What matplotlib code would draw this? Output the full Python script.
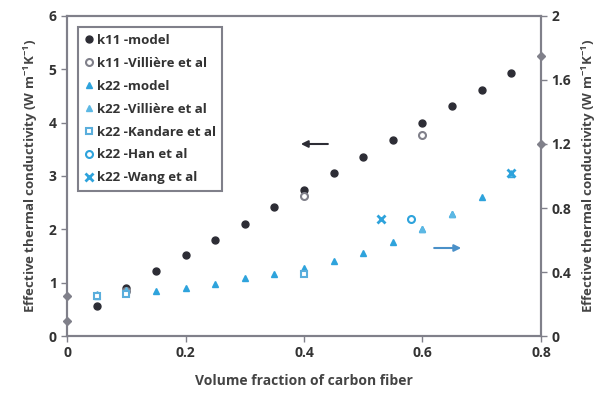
import numpy as np
import matplotlib.pyplot as plt

plt.rcParams['font.family'] = ['Open Sans', 'DejaVu Sans']
plt.rcParams['font.weight'] = 'bold'
plt.rcParams['axes.labelweight'] = 'bold'
plt.rcParams['mathtext.fontset'] = 'custom'
plt.rcParams['mathtext.bf'] = 'Open Sans:bold'
plt.rcParams['mathtext.rm'] = 'Open Sans:bold'
plt.rcParams['mathtext.default'] = 'bf'

# data
vf = [0.05, 0.10, 0.15, 0.20, 0.25, 0.30, 0.35, 0.40, 0.45, 0.50, 0.55, 0.60, 0.65, 0.70, 0.75]
k11_model = [0.57, 0.90, 1.22, 1.52, 1.80, 2.10, 2.42, 2.74, 3.06, 3.36, 3.68, 4.00, 4.31, 4.62, 4.93]
k11_vill_x = [0.10, 0.40, 0.60]
k11_vill = [0.85, 2.63, 3.77]
k22_model = [0.25, 0.275, 0.28, 0.30, 0.325, 0.36, 0.39, 0.425, 0.47, 0.52, 0.59, 0.67, 0.76, 0.87, 1.01]
k22_vill_x = [0.05, 0.10, 0.60, 0.65, 0.75]
k22_vill = [0.26, 0.29, 0.67, 0.76, 1.02]
kand_x = [0.05, 0.10, 0.40]
kand = [0.25, 0.26, 0.39]
han_x = [0.58]
han = [0.73]
wang_x = [0.53, 0.75]
wang = [0.73, 1.02]
bound_left = [0.28, 0.75]
bound_right = [1.75, 1.20]

dark = '#2d2d35'
blue = '#2ea3dc'
grey = '#80808a'
ylab = 'Effective thermal conductivity (W m$^{-1}$K$^{-1}$)'

fig = plt.figure(figsize=(6.06, 3.94), dpi=100)
ax = fig.add_axes([0.1106, 0.1472, 0.7821, 0.8122])
ax2 = ax.twinx()

h1, = ax.plot(vf, k11_model, 'o', color=dark, ms=5, label='k11 -model')
h2, = ax.plot(k11_vill_x, k11_vill, 'o', mfc='white', mec=grey, mew=1.5, ms=5, label='k11 -Villière et al')
ax.plot(np.zeros(len(bound_left)), bound_left, 'D', color=grey, ms=4, clip_on=False, zorder=5)

h3, = ax2.plot(vf, k22_model, '^', color=blue, ms=5, label='k22 -model')
h4, = ax2.plot(k22_vill_x, k22_vill, '^', color='#5cb8e4', ms=5, label='k22 -Villière et al')
h5, = ax2.plot(kand_x, kand, 's', mfc='white', mec='#5aaedc', mew=1.5, ms=5, label='k22 -Kandare et al')
h6, = ax2.plot(han_x, han, 'o', mfc='white', mec=blue, mew=1.5, ms=5, label='k22 -Han et al')
h7, = ax2.plot(wang_x, wang, 'x', color=blue, mew=2, ms=6, label='k22 -Wang et al')
ax2.plot(np.full(len(bound_right), 0.8), bound_right, 'D', color=grey, ms=4, clip_on=False, zorder=5)

ax.set_xlim(0, 0.8)
ax.set_ylim(0, 6)
ax2.set_ylim(0, 2)
ax.set_xticks([0, 0.2, 0.4, 0.6, 0.8])
ax.set_xticklabels(['0', '0.2', '0.4', '0.6', '0.8'])
ax.set_yticks(range(7))
ax2.set_yticks([0, 0.4, 0.8, 1.2, 1.6, 2])
ax2.set_yticklabels(['0', '0.4', '0.8', '1.2', '1.6', '2'])

for a in (ax, ax2):
    for s in a.spines.values():
        s.set_color(grey)
        s.set_linewidth(1.5)
    a.tick_params(colors=grey, labelcolor='#333333', labelsize=10, length=4, width=1)

ax.set_xlabel('Volume fraction of carbon fiber', fontsize=10, color='#444444', labelpad=10)
ax.set_ylabel(ylab, fontsize=9.5, color='#444444', labelpad=6)
ax2.set_ylabel(ylab, fontsize=9.5, color='#444444', labelpad=6)

ax.annotate('', xy=(0.39, 3.6), xytext=(0.445, 3.6),
            arrowprops=dict(arrowstyle='-|>', color=dark, lw=1.5))
ax2.annotate('', xy=(0.67, 0.55), xytext=(0.615, 0.55),
             arrowprops=dict(arrowstyle='-|>', color='#4a90c8', lw=1.5))

leg = ax.legend(handles=[h1, h2, h3, h4, h5, h6, h7], loc='upper left',
                bbox_to_anchor=(0.01, 0.985), fontsize=9.5, handlelength=0.6,
                handletextpad=0.3, labelspacing=0.75, borderpad=0.5,
                fancybox=False, edgecolor=grey, framealpha=1)
leg.get_frame().set_linewidth(1.5)
for t in leg.get_texts():
    t.set_color('#333333')

fig.savefig('out.png', dpi=100)
